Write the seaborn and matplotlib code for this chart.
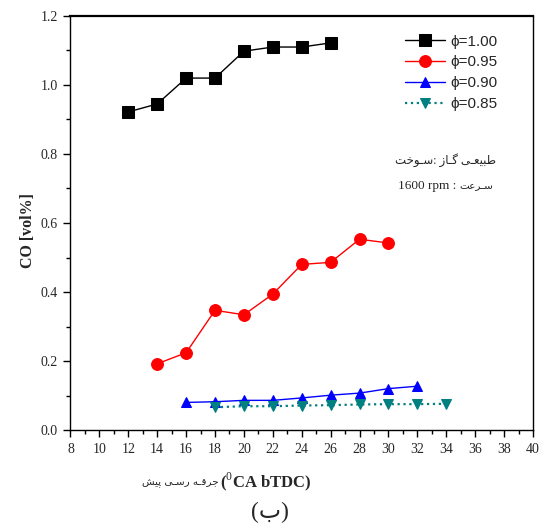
import matplotlib
matplotlib.use("Agg")
import matplotlib.pyplot as plt
from matplotlib.ticker import MultipleLocator, FormatStrFormatter
import seaborn as sns
import pandas as pd

# Spark advance (deg CA bTDC) and CO (vol%) for each equivalence ratio
x_100 = [12, 14, 16, 18, 20, 22, 24, 26]
co_100 = [0.922, 0.945, 1.020, 1.020, 1.098, 1.110, 1.110, 1.122]

x_095 = [14, 16, 18, 20, 22, 24, 26, 28, 30]
co_095 = [0.192, 0.224, 0.347, 0.334, 0.394, 0.480, 0.486, 0.553, 0.542]

x_090 = [16, 18, 20, 22, 24, 26, 28, 30, 32]
co_090 = [0.080, 0.082, 0.086, 0.086, 0.093, 0.101, 0.107, 0.120, 0.127]

x_085 = [18, 20, 22, 24, 26, 28, 30, 32, 34]
co_085 = [0.066, 0.069, 0.069, 0.071, 0.072, 0.074, 0.075, 0.075, 0.076]

labels = ["\u03d5=1.00", "\u03d5=0.95", "\u03d5=0.90", "\u03d5=0.85"]

# Persian captions, pre-shaped glyphs in visual (left-to-right) order
fuel_text = ("\uFE96\uFEA7\uFEEE\u0640\uFEB3: "
             "\uFEAF\uFE8E\u0640\uFB94 "
             "\uFBFD\u0640\uFECC\uFBFF\uFE92\uFEC3")
speed_num = "1600 rpm : "
speed_fa = "\uFE96\uFECB\uFEAE\u0640\uFEB3"
xlabel_fa = ("\uFEB6\uFBFF\uFB58 "
             "\uFBFD\u0640\uFEB3\uFEAD "
             "\uFEEA\u0640\uFED7\uFEAE\uFE9F")
xlabel_en = "($^{0}$CA bTDC)"
panel_tag = "(\u0628)"

sns.set_style("white")
plt.rcParams["font.family"] = ["Liberation Serif", "DejaVu Sans"]
plt.rcParams["mathtext.fontset"] = "custom"
plt.rcParams["mathtext.rm"] = "Liberation Serif"
plt.rcParams["mathtext.bf"] = "Liberation Serif:bold"

fig = plt.figure(figsize=(5.41, 5.29), dpi=100)
ax = fig.add_axes([0.1303, 0.1871, 0.8549, 0.7827])

series = [
    (x_100, co_100, "black", "s", 8.0, "-", 1.0),
    (x_095, co_095, "#ff0000", "o", 8.5, "-", 1.0),
    (x_090, co_090, "#0000ff", "^", 7.0, "-", 1.0),
    (x_085, co_085, "#008080", "v", 7.0, ":", 1.6),
]
for (xs, ys, col, mk, ms, ls, lw), lab in zip(series, labels):
    df = pd.DataFrame({"x": xs, "y": ys})
    sns.lineplot(data=df, x="x", y="y", ax=ax, color=col, marker=mk,
                 markersize=ms, markeredgecolor=col, linestyle=ls,
                 linewidth=lw, label=lab)

ax.set_xlim(8, 40)
ax.set_ylim(0.0, 1.2)
ax.xaxis.set_major_locator(MultipleLocator(2))
ax.xaxis.set_minor_locator(MultipleLocator(1))
ax.yaxis.set_major_locator(MultipleLocator(0.2))
ax.yaxis.set_minor_locator(MultipleLocator(0.1))
ax.yaxis.set_major_formatter(FormatStrFormatter("%.1f"))
ax.tick_params(which="major", direction="out", length=5, width=1,
               labelsize=10, bottom=True, left=True, top=False, right=False,
               color="black", pad=4)
ax.tick_params(which="minor", direction="out", length=3, width=1,
               bottom=True, left=True, top=False, right=False, color="black")
for side in ["left", "bottom", "right"]:
    ax.spines[side].set_color("black")
    ax.spines[side].set_linewidth(1.0)
ax.spines["top"].set_color("black")
ax.spines["top"].set_linewidth(1.6)

ax.set_xlabel("")
ax.set_ylabel("CO [vol%]", fontsize=11.5, fontweight="bold")
ax.yaxis.set_label_coords(-0.0746, 0.483)

leg = ax.legend(loc="upper left", bbox_to_anchor=(0.723, 0.955),
                frameon=False, handlelength=2.6,
                handletextpad=0.4, labelspacing=0.45, borderpad=0,
                borderaxespad=0,
                prop={"family": ["Liberation Sans", "DejaVu Sans"], "size": 11})

ax.text(0.702, 0.651, fuel_text, transform=ax.transAxes, fontsize=8.5,
        ha="left", va="center")
num = ax.text(0.708, 0.589, speed_num, transform=ax.transAxes, fontsize=9.5,
              ha="left", va="center")
ax.annotate(speed_fa, xy=(1, 0.5), xycoords=num, xytext=(0, 0),
            textcoords="offset points", fontsize=7.5, ha="left", va="center",
            family=["DejaVu Sans"])

fig.text(220 / 541, 1 - 482 / 529, xlabel_en, fontsize=12, fontweight="bold",
         ha="left", va="center")
fig.text(219 / 541, 1 - 483 / 529, xlabel_fa, fontsize=7.5,
         ha="right", va="center", family=["DejaVu Sans"])
fig.text(270 / 541, 1 - 512 / 529, panel_tag, fontsize=17,
         ha="center", va="center")

fig.savefig("out.png", dpi=100)
